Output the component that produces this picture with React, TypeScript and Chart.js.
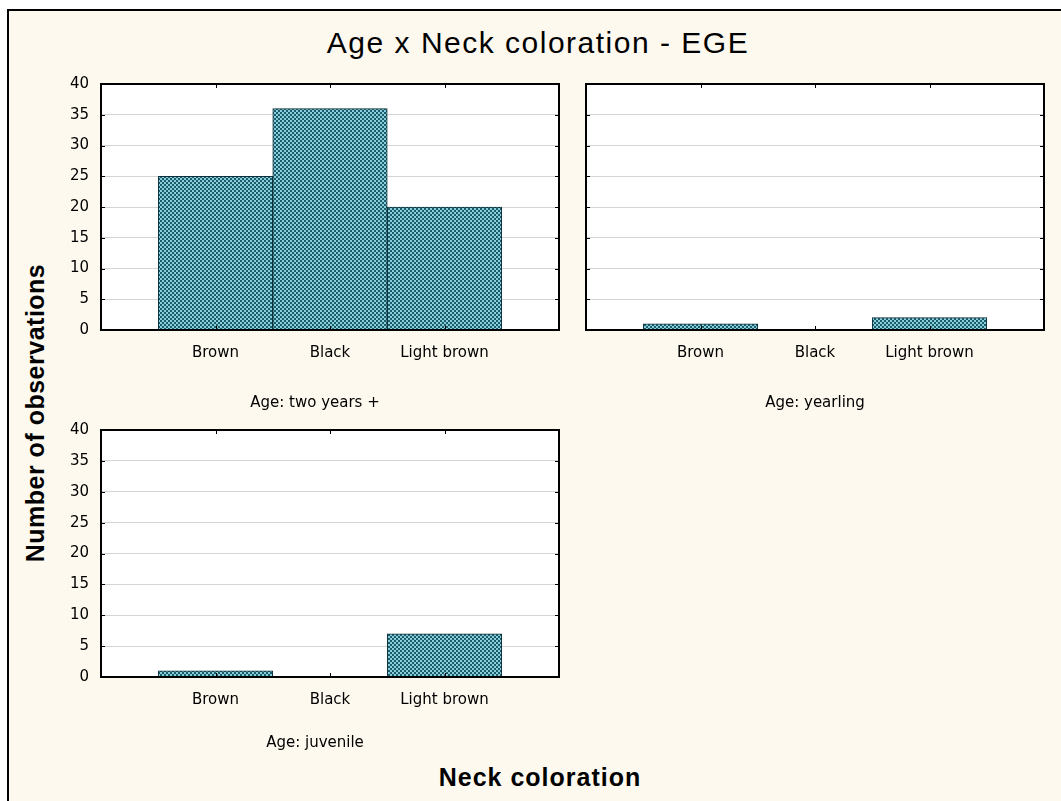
import React, { useEffect, useRef } from "react";
import { Chart, registerables } from "chart.js";

Chart.register(...registerables);

// ---- data ----
const categories = ["Brown", "Black", "Light brown"];
const twoYearsPlus = [25, 36, 20];
const yearling = [1, 0, 2];
const juvenile = [1, 0, 7];
const yMin = 0;
const yMax = 40;
const yStep = 5;
const chartTitle = "Age x Neck coloration - EGE";
const yAxisTitle = "Number of observations";
const xAxisTitle = "Neck coloration";
const panelLabels = ["Age: two years +", "Age: yearling", "Age: juvenile"];

const CREAM = "#fdf9ef";
const TICK_FONT = "'DejaVu Sans', sans-serif";
const TITLE_FONT = "'Liberation Sans', Arial, sans-serif";

function makePattern(ctx: CanvasRenderingContext2D) {
  const c = document.createElement("canvas");
  c.width = 4;
  c.height = 4;
  const g = c.getContext("2d")!;
  g.fillStyle = "#1f5a69";
  g.fillRect(0, 0, 4, 4);
  g.fillStyle = "#86cfdc";
  g.fillRect(0, 0, 2, 2);
  g.fillRect(2, 2, 2, 2);
  return ctx.createPattern(c, "repeat");
}

const framePlugin = {
  id: "panelFrame",
  beforeDraw(chart: any) {
    const { ctx, chartArea: a } = chart;
    ctx.save();
    ctx.fillStyle = "#ffffff";
    ctx.fillRect(a.left, a.top, a.right - a.left, a.bottom - a.top);
    ctx.restore();
  },
  afterDraw(chart: any, _args: any, opts: any) {
    const { ctx, chartArea: a, scales } = chart;
    ctx.save();
    ctx.strokeStyle = "#000";
    ctx.lineWidth = 1;
    const ys = scales.y;
    ys.ticks.forEach((t: any) => {
      const py = Math.round(ys.getPixelForValue(t.value)) + 0.5;
      ctx.beginPath();
      ctx.moveTo(a.left, py);
      ctx.lineTo(a.left + 4, py);
      ctx.moveTo(a.right - 4, py);
      ctx.lineTo(a.right, py);
      ctx.stroke();
    });
    const xs = scales.x;
    (chart.data.labels as string[]).forEach((l, i) => {
      if (!l) return;
      const px = Math.round(xs.getPixelForValue(i)) + 0.5;
      ctx.beginPath();
      ctx.moveTo(px, a.top);
      ctx.lineTo(px, a.top + 4);
      ctx.moveTo(px, a.bottom - 4);
      ctx.lineTo(px, a.bottom);
      ctx.stroke();
    });
    ctx.lineWidth = 2;
    ctx.strokeRect(a.left, a.top, a.right - a.left, a.bottom - a.top);
    ctx.font = `15px ${TICK_FONT}`;
    ctx.fillStyle = "#000";
    ctx.textAlign = "center";
    ctx.textBaseline = "middle";
    ctx.fillText(opts.text, opts.x, opts.y);
    ctx.restore();
  },
};

type PanelProps = {
  left: number;
  top: number;
  width: number;
  height: number;
  yWidth: number;
  xHeight: number;
  padTop: number;
  padRight: number;
  values: number[];
  label: string;
  labelX: number;
  labelY: number;
  showY: boolean;
};

function Panel(p: PanelProps) {
  const ref = useRef<HTMLCanvasElement>(null);
  useEffect(() => {
    const canvas = ref.current!;
    const ctx = canvas.getContext("2d")!;
    const pattern = makePattern(ctx);
    const tickFont = { family: TICK_FONT, size: 15 };
    const chart = new Chart(canvas, {
      type: "bar",
      data: {
        labels: ["", ...categories, ""],
        datasets: [
          {
            data: [null, ...p.values, null] as any,
            backgroundColor: pattern as any,
            borderColor: "#0d2f38",
            borderWidth: 1,
            barPercentage: 1,
            categoryPercentage: 1,
          },
        ],
      },
      options: {
        responsive: false,
        maintainAspectRatio: false,
        animation: false,
        layout: { padding: { top: p.padTop, right: p.padRight, left: 0, bottom: 0 } },
        plugins: {
          legend: { display: false },
          tooltip: { enabled: false },
          panelFrame: { text: p.label, x: p.labelX - p.left, y: p.labelY - p.top },
        } as any,
        scales: {
          x: {
            type: "category",
            offset: false,
            grid: { display: false, drawTicks: false },
            border: { display: false },
            ticks: { padding: 14, font: tickFont, color: "#000", maxRotation: 0, autoSkip: false },
            afterFit: (s: any) => {
              s.height = p.xHeight;
              s.paddingLeft = 0;
              s.paddingRight = 0;
            },
          },
          y: {
            min: yMin,
            max: yMax,
            ticks: { stepSize: yStep, display: p.showY, padding: 12, font: tickFont, color: "#000" },
            grid: { color: "#d4d4d4", drawTicks: false },
            border: { display: false },
            afterFit: (s: any) => {
              s.width = p.yWidth;
              s.paddingTop = 0;
              s.paddingBottom = 0;
            },
          },
        },
      },
      plugins: [framePlugin as any],
    });
    return () => chart.destroy();
  }, []);
  return (
    <canvas
      ref={ref}
      width={p.width}
      height={p.height}
      style={{ position: "absolute", left: p.left, top: p.top, width: p.width, height: p.height }}
    />
  );
}

export default function App() {
  return (
    <div
      style={{
        position: "absolute",
        left: 0,
        top: 0,
        width: 1061,
        height: 801,
        background: "#ffffff",
        overflow: "hidden",
        fontFamily: TITLE_FONT,
      }}
    >
      <div
        style={{
          position: "absolute",
          left: 7,
          top: 9,
          right: 0,
          bottom: 0,
          background: CREAM,
          borderLeft: "2px solid #000",
          borderTop: "2px solid #000",
        }}
      />
      <div
        style={{
          position: "absolute",
          left: 538,
          top: 43,
          transform: "translate(-50%, -50%)",
          fontSize: 30,
          lineHeight: "34px",
          letterSpacing: "1.5px",
          whiteSpace: "nowrap",
          color: "#000",
        }}
      >
        {chartTitle}
      </div>
      <div
        style={{
          position: "absolute",
          left: 35,
          top: 413,
          transform: "translate(-50%, -50%) rotate(-90deg)",
          fontSize: 25,
          fontWeight: "bold",
          lineHeight: "28px",
          letterSpacing: "0.5px",
          whiteSpace: "nowrap",
          color: "#000",
        }}
      >
        {yAxisTitle}
      </div>
      <div
        style={{
          position: "absolute",
          left: 540,
          top: 777,
          transform: "translate(-50%, -50%)",
          fontSize: 25,
          fontWeight: "bold",
          lineHeight: "28px",
          letterSpacing: "1px",
          whiteSpace: "nowrap",
          color: "#000",
        }}
      >
        {xAxisTitle}
      </div>
      <Panel
        left={40}
        top={70}
        width={530}
        height={350}
        yWidth={61}
        xHeight={90}
        padTop={14}
        padRight={11}
        values={twoYearsPlus}
        label={panelLabels[0]}
        labelX={315}
        labelY={403}
        showY={true}
      />
      <Panel
        left={572}
        top={70}
        width={489}
        height={350}
        yWidth={14}
        xHeight={90}
        padTop={14}
        padRight={17}
        values={yearling}
        label={panelLabels[1]}
        labelX={815}
        labelY={403}
        showY={false}
      />
      <Panel
        left={40}
        top={420}
        width={530}
        height={346}
        yWidth={61}
        xHeight={89}
        padTop={10}
        padRight={11}
        values={juvenile}
        label={panelLabels[2]}
        labelX={315}
        labelY={743}
        showY={true}
      />
    </div>
  );
}
